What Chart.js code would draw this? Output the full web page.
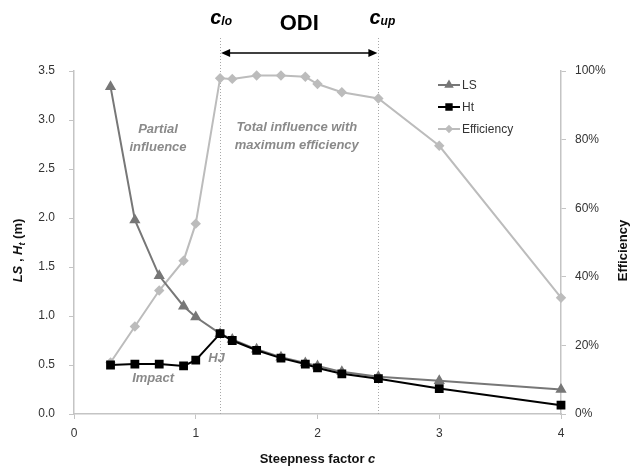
<!DOCTYPE html>
<html>
<head>
<meta charset="utf-8">
<script src="https://cdn.jsdelivr.net/npm/chart.js@4/dist/chart.umd.min.js"></script>
<style>
  html, body { margin: 0; padding: 0; background: #fff; }
  #wrap { width: 633px; height: 473px; }
</style>
</head>
<body>
<div id="wrap"><canvas id="c" width="633" height="473"></canvas></div>
<script>
// ---- data ----
const cValues   = [0.3, 0.5, 0.7, 0.9, 1.0, 1.2, 1.3, 1.5, 1.7, 1.9, 2.0, 2.2, 2.5, 3.0, 4.0];
const lsValues  = [3.34, 1.98, 1.41, 1.10, 0.99, 0.82, 0.76, 0.66, 0.58, 0.52, 0.49, 0.43, 0.38, 0.34, 0.25];
const htValues  = [0.50, 0.51, 0.51, 0.49, 0.55, 0.82, 0.75, 0.65, 0.57, 0.51, 0.47, 0.41, 0.36, 0.26, 0.09];
const effValues = [15, 25.5, 36, 44.7, 55.5, 97.9, 97.7, 98.7, 98.7, 98.3, 96.2, 93.8, 92, 78.2, 33.9];
const seriesNames = ['LS', 'Ht', 'Efficiency'];
const xTicks = [0, 1, 2, 3, 4];
const leftTicks = [0, 0.5, 1.0, 1.5, 2.0, 2.5, 3.0, 3.5];
const rightTicks = [0, 20, 40, 60, 80, 100];
const cLo = 1.2, cUp = 2.5;

const FONT = '"Liberation Sans", Arial, sans-serif';
const toPts = ys => cValues.map((x, i) => ({ x: x, y: ys[i] }));

const annotate = {
  id: 'annotate',
  beforeDatasetsDraw(chart) {
    const { ctx, chartArea, scales } = chart;
    const x = scales.x;
    ctx.save();
    ctx.strokeStyle = '#a8a8a8';
    ctx.lineWidth = 1;
    ctx.setLineDash([1, 2]);
    [cLo, cUp].forEach(v => {
      const px = Math.round(x.getPixelForValue(v)) + 0.5;
      ctx.beginPath();
      ctx.moveTo(px, chartArea.top - 33);
      ctx.lineTo(px, chartArea.bottom);
      ctx.stroke();
    });
    ctx.restore();
  },
  afterDraw(chart) {
    const { ctx, chartArea, scales } = chart;
    const x = scales.x, y = scales.y;
    ctx.save();
    // arrow
    const x1 = x.getPixelForValue(cLo), x2 = x.getPixelForValue(cUp);
    const ay = chartArea.top - 18;
    ctx.strokeStyle = '#000'; ctx.fillStyle = '#000'; ctx.lineWidth = 1.5;
    ctx.beginPath(); ctx.moveTo(x1 + 4, ay); ctx.lineTo(x2 - 4, ay); ctx.stroke();
    ctx.beginPath(); ctx.moveTo(x1 + 1, ay); ctx.lineTo(x1 + 10, ay - 4); ctx.lineTo(x1 + 10, ay + 4); ctx.closePath(); ctx.fill();
    ctx.beginPath(); ctx.moveTo(x2 - 1, ay); ctx.lineTo(x2 - 10, ay - 4); ctx.lineTo(x2 - 10, ay + 4); ctx.closePath(); ctx.fill();

    // ODI
    ctx.textBaseline = 'alphabetic';
    ctx.textAlign = 'center';
    ctx.font = 'bold 22px ' + FONT;
    ctx.fillText('ODI', x.getPixelForValue((cLo + cUp) / 2), chartArea.top - 41);

    // c_lo, c_up
    const drawSub = (main, sub, cx, base) => {
      ctx.textAlign = 'left';
      ctx.font = 'bold italic 20px ' + FONT;
      const w1 = ctx.measureText(main).width;
      ctx.font = 'bold italic 12px ' + FONT;
      const w2 = ctx.measureText(sub).width;
      const start = cx - (w1 + w2) / 2;
      ctx.font = 'bold italic 20px ' + FONT;
      ctx.fillText(main, start, base);
      ctx.font = 'bold italic 12px ' + FONT;
      ctx.fillText(sub, start + w1, base + 1);
    };
    drawSub('c', 'lo', x.getPixelForValue(cLo) + 1, chartArea.top - 47);
    drawSub('c', 'up', x.getPixelForValue(cUp) + 4, chartArea.top - 47);

    // in-plot texts
    ctx.fillStyle = '#8a8a8a';
    ctx.textAlign = 'center';
    ctx.textBaseline = 'middle';
    ctx.font = 'bold italic 13px ' + FONT;
    const t = (s, cx, cy) => ctx.fillText(s, x.getPixelForValue(cx), y.getPixelForValue(cy));
    t('Partial', 0.69, 2.90);
    t('influence', 0.69, 2.72);
    t('Total influence with', 1.83, 2.92);
    t('maximum efficiency', 1.83, 2.74);
    t('Impact', 0.65, 0.36);
    t('HJ', 1.17, 0.57);

    // legend
    const ds = chart.data.datasets;
    const lx = 438, lys = [85, 107, 129];
    ds.forEach((d, i) => {
      const ly = lys[i];
      ctx.strokeStyle = d.borderColor; ctx.lineWidth = 2; ctx.setLineDash([]);
      ctx.beginPath(); ctx.moveTo(lx, ly); ctx.lineTo(lx + 22, ly); ctx.stroke();
      ctx.fillStyle = d.pointBackgroundColor;
      ctx.strokeStyle = d.pointBackgroundColor;
      Chart.helpers.drawPoint(ctx, { pointStyle: d.pointStyle, radius: d.pointRadius - 1, rotation: 0, borderWidth: 1 }, lx + 11, ly);
      ctx.fillStyle = '#333';
      ctx.textAlign = 'left';
      ctx.font = '12px ' + FONT;
      ctx.fillText(d.label, lx + 24, ly + 1);
    });

    // axis titles
    ctx.fillStyle = '#111';
    ctx.textBaseline = 'alphabetic';
    ctx.font = 'bold 13px ' + FONT;
    const p1 = 'Steepness factor ';
    const w1 = ctx.measureText(p1).width;
    ctx.font = 'bold italic 13px ' + FONT;
    const w2 = ctx.measureText('c').width;
    const xc = (chartArea.left + chartArea.right) / 2;
    ctx.textAlign = 'left';
    ctx.font = 'bold 13px ' + FONT;
    ctx.fillText(p1, xc - (w1 + w2) / 2, 463);
    ctx.font = 'bold italic 13px ' + FONT;
    ctx.fillText('c', xc - (w1 + w2) / 2 + w1, 463);

    // right title
    ctx.save();
    ctx.translate(627, (chartArea.top + chartArea.bottom) / 2 + 8);
    ctx.rotate(-Math.PI / 2);
    ctx.textAlign = 'center';
    ctx.font = 'bold 13px ' + FONT;
    ctx.fillText('Efficiency', 0, 0);
    ctx.restore();

    // left title: LS , H_t (m)
    ctx.save();
    ctx.translate(22, (chartArea.top + chartArea.bottom) / 2 + 8);
    ctx.rotate(-Math.PI / 2);
    const parts = [
      ['LS', 'bold italic 13px', 0],
      [' , ', 'bold 13px', 0],
      ['H', 'bold italic 13px', 0],
      ['t', 'bold italic 9px', 3],
      [' (m)', 'bold 13px', 0]
    ];
    let total = 0;
    parts.forEach(p => { ctx.font = p[1] + ' ' + FONT; total += ctx.measureText(p[0]).width; });
    let cx = -total / 2;
    ctx.textAlign = 'left';
    parts.forEach(p => {
      ctx.font = p[1] + ' ' + FONT;
      ctx.fillText(p[0], cx, p[2]);
      cx += ctx.measureText(p[0]).width;
    });
    ctx.restore();

    ctx.restore();
  }
};

new Chart(document.getElementById('c'), {
  type: 'line',
  data: {
    datasets: [
      {
        label: seriesNames[0], data: toPts(lsValues), yAxisID: 'y', clip: false,
        borderColor: '#777777', backgroundColor: '#777777', pointBackgroundColor: '#777777', pointBorderColor: '#777777',
        borderWidth: 2, pointStyle: 'triangle', pointRadius: 4.5, order: 1
      },
      {
        label: seriesNames[1], data: toPts(htValues), yAxisID: 'y', clip: false,
        borderColor: '#000000', backgroundColor: '#000000', pointBackgroundColor: '#000000', pointBorderColor: '#000000',
        borderWidth: 2, pointStyle: 'rect', pointRadius: 4.8, order: 0
      },
      {
        label: seriesNames[2], data: toPts(effValues), yAxisID: 'y1', clip: false,
        borderColor: '#bcbcbc', backgroundColor: '#bcbcbc', pointBackgroundColor: '#bcbcbc', pointBorderColor: '#bcbcbc',
        borderWidth: 2, pointStyle: 'rectRot', pointRadius: 3.8, order: 2
      }
    ]
  },
  options: {
    responsive: false,
    animation: false,
    layout: { padding: { top: 71, left: 0, right: 0, bottom: 0 } },
    plugins: { legend: { display: false }, tooltip: { enabled: false } },
    elements: { line: { tension: 0 } },
    scales: {
      x: {
        type: 'linear', min: 0, max: 4,
        afterBuildTicks: s => { s.ticks = xTicks.map(v => ({ value: v })); },
        afterFit: s => { s.height = 59; },
        border: { color: '#c4c4c4', width: 1.5 },
        grid: { drawOnChartArea: false, tickLength: 5, color: '#c4c4c4' },
        ticks: { padding: 7, color: '#333', font: { family: FONT, size: 12 } }
      },
      y: {
        position: 'left', min: 0, max: 3.5,
        afterBuildTicks: s => { s.ticks = leftTicks.map(v => ({ value: v })); },
        afterFit: s => { s.width = 74; },
        border: { color: '#c4c4c4', width: 1.5 },
        grid: { drawOnChartArea: false, tickLength: 5, color: '#c4c4c4' },
        ticks: { padding: 14, color: '#333', font: { family: FONT, size: 12 }, callback: v => v.toFixed(1) }
      },
      y1: {
        position: 'right', min: 0, max: 100,
        afterBuildTicks: s => { s.ticks = rightTicks.map(v => ({ value: v })); },
        afterFit: s => { s.width = 72; },
        border: { color: '#c4c4c4', width: 1.5 },
        grid: { drawOnChartArea: false, tickLength: 5, color: '#c4c4c4' },
        ticks: { padding: 9, color: '#333', font: { family: FONT, size: 12 }, callback: v => v + '%' }
      }
    }
  },
  plugins: [annotate]
});
</script>
</body>
</html>
